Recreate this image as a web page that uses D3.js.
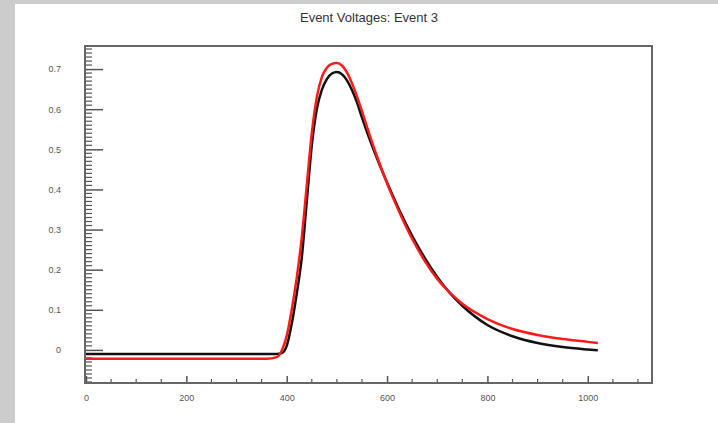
<!DOCTYPE html>
<html>
<head>
<script src="https://d3js.org/d3.v7.min.js"></script>
<style>
body { margin: 0; background: #cccccc; }
text { font-family: "Liberation Sans", Arial, sans-serif; }
</style>
</head>
<body>
<div id="viz"></div>
<script>
// sample times (x) and the two voltage traces
var times = [0, 100, 200, 300, 360, 380, 390, 400, 410, 420, 430, 440, 450, 460, 470, 480, 490, 500, 510, 520, 530, 540, 550, 560, 580, 600, 625, 650, 675, 700, 725, 750, 800, 850, 900, 950, 1000, 1020];
var blackV = [-0.010, -0.010, -0.010, -0.010, -0.010, -0.010, -0.008, 0.010, 0.065, 0.14, 0.23, 0.37, 0.51, 0.60, 0.648, 0.675, 0.689, 0.6925, 0.687, 0.672, 0.648, 0.617, 0.579, 0.543, 0.477, 0.417, 0.347, 0.2845, 0.2295, 0.182, 0.142, 0.110, 0.062, 0.034, 0.017, 0.007, 0.001, -0.001];
var redV   = [-0.022, -0.022, -0.022, -0.022, -0.022, -0.018, -0.002, 0.035, 0.10, 0.18, 0.28, 0.41, 0.54, 0.63, 0.68, 0.703, 0.713, 0.715, 0.709, 0.692, 0.665, 0.632, 0.595, 0.556, 0.482, 0.415, 0.342, 0.277, 0.222, 0.177, 0.1425, 0.115, 0.077, 0.052, 0.037, 0.027, 0.020, 0.017];
var xTicks = [0, 200, 400, 600, 800, 1000];
var yTicks = [0, 0.1, 0.2, 0.3, 0.4, 0.5, 0.6, 0.7];
var title = "Event Voltages: Event 3";

var W = 718, H = 423;
var frame = {left: 85, right: 652, top: 46, bottom: 383};

var svg = d3.select("#viz").append("svg")
    .attr("width", W).attr("height", H);

// white canvas pad
svg.append("rect").attr("x", 15).attr("y", 4)
    .attr("width", W - 15).attr("height", H - 4).style("fill", "#fff");

var x = d3.scaleLinear().domain([0, 1128]).range([frame.left + 1, frame.right]);
var y = d3.scaleLinear().domain([-0.0825, 0.7575]).range([frame.bottom, frame.top]);

svg.append("text").attr("x", 369).attr("y", 22)
    .attr("text-anchor", "middle").style("font-size", "13px").style("fill", "#333")
    .text(title);

// minor ticks
var g = svg.append("g").style("stroke", "#555").style("stroke-width", 1.2);
d3.range(-0.08, 0.751, 0.01).forEach(function(v) {
  var big = yTicks.some(function(t) { return Math.abs(t - v) < 1e-6; });
  if (big) return;
  g.append("line").attr("x1", frame.left).attr("x2", frame.left + 7)
    .attr("y1", y(v)).attr("y2", y(v));
});
d3.range(50, 1128, 50).forEach(function(v) {
  if (v % 200 === 0) return;
  g.append("line").attr("x1", x(v)).attr("x2", x(v))
    .attr("y1", frame.bottom).attr("y2", frame.bottom - 4);
});

// y axis
var yAxis = d3.axisLeft(y).tickValues(yTicks).tickSize(-18).tickPadding(24)
    .tickFormat(function(d) { return d === 0 ? "0" : d3.format(".1f")(d); });
var ya = svg.append("g").attr("transform", "translate(" + frame.left + ",0)").call(yAxis);
ya.select(".domain").remove();
ya.selectAll("line").style("stroke", "#555").style("stroke-width", 1.5);
ya.selectAll("text").style("font-size", "9px").style("fill", "#555");

// x axis
var xAxis = d3.axisBottom(x).tickValues(xTicks).tickSize(-7).tickPadding(12)
    .tickFormat(d3.format("d"));
var xa = svg.append("g").attr("transform", "translate(0," + frame.bottom + ")").call(xAxis);
xa.select(".domain").remove();
xa.selectAll("line").style("stroke", "#555").style("stroke-width", 1.5);
xa.selectAll("text").style("font-size", "9px").style("fill", "#555");

// frame
svg.append("rect").attr("x", frame.left).attr("y", frame.top)
    .attr("width", frame.right - frame.left).attr("height", frame.bottom - frame.top)
    .style("fill", "none").style("stroke", "#666").style("stroke-width", 2);

var line = d3.line().curve(d3.curveMonotoneX);

svg.append("path")
    .attr("d", line(times.map(function(t, i) { return [x(t), y(blackV[i])]; })))
    .style("fill", "none").style("stroke", "#111").style("stroke-width", 2.5);
svg.append("path")
    .attr("d", line(times.map(function(t, i) { return [x(t), y(redV[i])]; })))
    .style("fill", "none").style("stroke", "#ff1a1a").style("stroke-width", 2.5);
</script>
</body>
</html>
